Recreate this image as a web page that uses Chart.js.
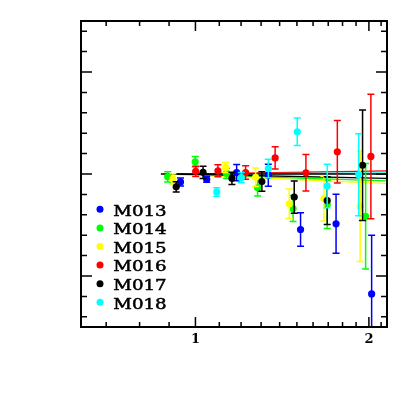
<!DOCTYPE html>
<html>
<head>
<meta charset="utf-8">
<script src="https://cdn.jsdelivr.net/npm/chart.js@4/dist/chart.umd.min.js"></script>
<style>
html, body { margin: 0; padding: 0; background: #fff; }
</style>
</head>
<body>
<canvas id="chart" width="409" height="409"></canvas>
<script>
// axis ticks
var xTicks = [0.7, 0.8, 0.9, 1, 1.1, 1.2, 1.3, 1.4, 1.5, 1.6, 1.7, 1.8, 1.9, 2, 2.1];
var xLabelled = [1, 2];
var yTicks = [0.3, 0.4, 0.5, 0.6, 0.7, 0.8, 0.9, 1, 1.1, 1.2, 1.3, 1.4, 1.5, 1.6, 1.7];
var yMajor = [0.5, 1, 1.5];

// measured points (x, value, error)
var m013X = [0.942, 1.046, 1.179, 1.338, 1.522, 1.754, 2.022];
var m013Y = [0.961, 0.974, 1.007, 0.994, 0.728, 0.756, 0.412];
var m013E = [0.020, 0.015, 0.040, 0.054, 0.082, 0.145, 0.288];

var m014X = [0.895, 0.999, 1.132, 1.282, 1.477, 1.693, 1.974];
var m014Y = [0.986, 1.060, 1.003, 0.933, 0.831, 0.851, 0.793];
var m014E = [0.025, 0.026, 0.025, 0.041, 0.064, 0.118, 0.259];

var m015X = [0.914, 1.128, 1.272, 1.455, 1.671, 1.931];
var m015Y = [0.976, 1.032, 0.984, 0.854, 0.879, 0.841];
var m015E = [0.025, 0.025, 0.045, 0.072, 0.110, 0.270];

var m016X = [1.001, 1.094, 1.222, 1.375, 1.555, 1.763, 2.016];
var m016Y = [1.013, 1.016, 1.007, 1.079, 1.006, 1.109, 1.086];
var m016E = [0.025, 0.029, 0.033, 0.055, 0.089, 0.153, 0.305];

var m017X = [0.926, 1.031, 1.157, 1.304, 1.484, 1.693, 1.950];
var m017Y = [0.937, 1.008, 0.979, 0.963, 0.887, 0.870, 1.043];
var m017E = [0.025, 0.030, 0.030, 0.048, 0.079, 0.117, 0.271];

var m018X = [1.089, 1.201, 1.338, 1.502, 1.693, 1.920];
var m018Y = [0.912, 0.982, 1.027, 1.207, 0.941, 0.996];
var m018E = [0.021, 0.025, 0.045, 0.067, 0.107, 0.201];

// fit lines: start x, start value, end x, end value
var fitX0 = [0.895, 0.914, 1.001, 0.926, 1.089];
var fitY0 = [1.0, 1.0, 1.0, 1.0, 1.0];
var fitX1 = [2.15, 2.15, 2.15, 2.15, 2.15];
var fitY1 = [0.966, 0.953, 1.015, 0.979, 1.005];
var fitNames = ['M014', 'M015', 'M016', 'M017', 'M018'];
var refX = [0.871, 2.15];
var refY = [1, 1];

var names = ['M013', 'M014', 'M015', 'M016', 'M017', 'M018'];
var colors = {M013: '#0000ff', M014: '#00ff00', M015: '#ffff00', M016: '#ff0000', M017: '#000000', M018: '#00ffff'};
var xs = [m013X, m014X, m015X, m016X, m017X, m018X];
var ys = [m013Y, m014Y, m015Y, m016Y, m017Y, m018Y];
var es = [m013E, m014E, m015E, m016E, m017E, m018E];

function pts(x, y) {
  return x.map(function (v, i) { return {x: v, y: y[i]}; });
}

var datasets = [];
names.forEach(function (n, i) {
  datasets.push({
    label: n,
    data: pts(xs[i], ys[i]),
    errs: es[i],
    showLine: false,
    pointRadius: 3.6,
    pointBorderWidth: 0,
    backgroundColor: colors[n],
    borderColor: colors[n],
    order: 10 - i
  });
});
fitNames.forEach(function (n, i) {
  datasets.push({
    label: n + ' fit',
    data: pts([fitX0[i], fitX1[i]], [fitY0[i], fitY1[i]]),
    showLine: true,
    pointRadius: 0,
    borderWidth: 1.3,
    borderColor: colors[n],
    order: 30 - i
  });
});
datasets.push({
  label: 'ref',
  data: pts(refX, refY),
  showLine: true,
  pointRadius: 0,
  borderWidth: 1.3,
  borderColor: '#000',
  order: 20
});

// error bars under each series' points
var errorBars = {
  id: 'errorBars',
  beforeDatasetDraw: function (chart, args) {
    var ds = chart.data.datasets[args.index];
    if (!ds.errs) return;
    var ctx = chart.ctx, a = chart.chartArea;
    var sx = chart.scales.x, sy = chart.scales.y;
    ctx.save();
    ctx.beginPath();
    ctx.rect(a.left, a.top, a.right - a.left, a.bottom - a.top);
    ctx.clip();
    ctx.strokeStyle = ds.borderColor;
    ctx.lineWidth = 1.5;
    ds.data.forEach(function (p, i) {
      var px = sx.getPixelForValue(p.x);
      var t = sy.getPixelForValue(p.y + ds.errs[i]);
      var b = sy.getPixelForValue(p.y - ds.errs[i]);
      ctx.beginPath();
      ctx.moveTo(px, t); ctx.lineTo(px, b);
      ctx.moveTo(px - 3.5, t); ctx.lineTo(px + 3.5, t);
      ctx.moveTo(px - 3.5, b); ctx.lineTo(px + 3.5, b);
      ctx.stroke();
    });
    ctx.restore();
  }
};

// frame, inward ticks and legend
var frame = {
  id: 'frame',
  afterDraw: function (chart) {
    var ctx = chart.ctx, a = chart.chartArea;
    var sx = chart.scales.x, sy = chart.scales.y;
    ctx.save();
    ctx.strokeStyle = '#000';
    ctx.lineWidth = 1.5;
    ctx.beginPath();
    xTicks.forEach(function (v) {
      var px = sx.getPixelForValue(v);
      var len = xLabelled.indexOf(v) >= 0 ? 10 : 5;
      ctx.moveTo(px, a.bottom); ctx.lineTo(px, a.bottom - len);
      ctx.moveTo(px, a.top); ctx.lineTo(px, a.top + len);
    });
    yTicks.forEach(function (v) {
      var py = sy.getPixelForValue(v);
      var len = yMajor.indexOf(v) >= 0 ? 11 : 6;
      ctx.moveTo(a.left, py); ctx.lineTo(a.left + len, py);
      ctx.moveTo(a.right, py); ctx.lineTo(a.right - len, py);
    });
    ctx.stroke();
    ctx.lineWidth = 2;
    ctx.strokeRect(a.left, a.top, a.right - a.left, a.bottom - a.top);

    ctx.font = '14px "DejaVu Serif"';
    ctx.textBaseline = 'alphabetic';
    ctx.lineWidth = 0.5;
    ctx.strokeStyle = '#000';
    names.forEach(function (n, i) {
      var y = 209.3 + 18.6 * i;
      ctx.fillStyle = colors[n];
      ctx.beginPath();
      ctx.arc(100, y, 3.5, 0, Math.PI * 2);
      ctx.fill();
      ctx.fillStyle = '#000';
      ctx.save();
      ctx.translate(113.3, y + 6.3);
      ctx.scale(1.3, 1);
      ctx.fillText(n, 0, 0);
      ctx.strokeText(n, 0, 0);
      ctx.restore();
    });
    ctx.restore();
  }
};

new Chart(document.getElementById('chart'), {
  type: 'scatter',
  data: {datasets: datasets},
  options: {
    responsive: false,
    animation: false,
    layout: {padding: {left: 81, top: 21, right: 22, bottom: 0}},
    plugins: {legend: {display: false}, tooltip: {enabled: false}},
    scales: {
      x: {
        type: 'logarithmic',
        bounds: 'data',
        min: 0.633,
        max: 2.15,
        grid: {display: false, drawTicks: false},
        border: {display: false},
        afterBuildTicks: function (s) {
          s.ticks = xTicks.map(function (v) { return {value: v}; });
        },
        afterFit: function (s) { s.height = 82; },
        ticks: {
          autoSkip: false,
          maxRotation: 0,
          padding: 5,
          color: '#000',
          font: {family: 'DejaVu Serif', size: 13, weight: 'bold'},
          callback: function (v) { return xLabelled.indexOf(v) >= 0 ? String(v) : ''; }
        }
      },
      y: {
        type: 'linear',
        min: 0.25,
        max: 1.75,
        display: false
      }
    }
  },
  plugins: [errorBars, frame]
});
</script>
</body>
</html>
